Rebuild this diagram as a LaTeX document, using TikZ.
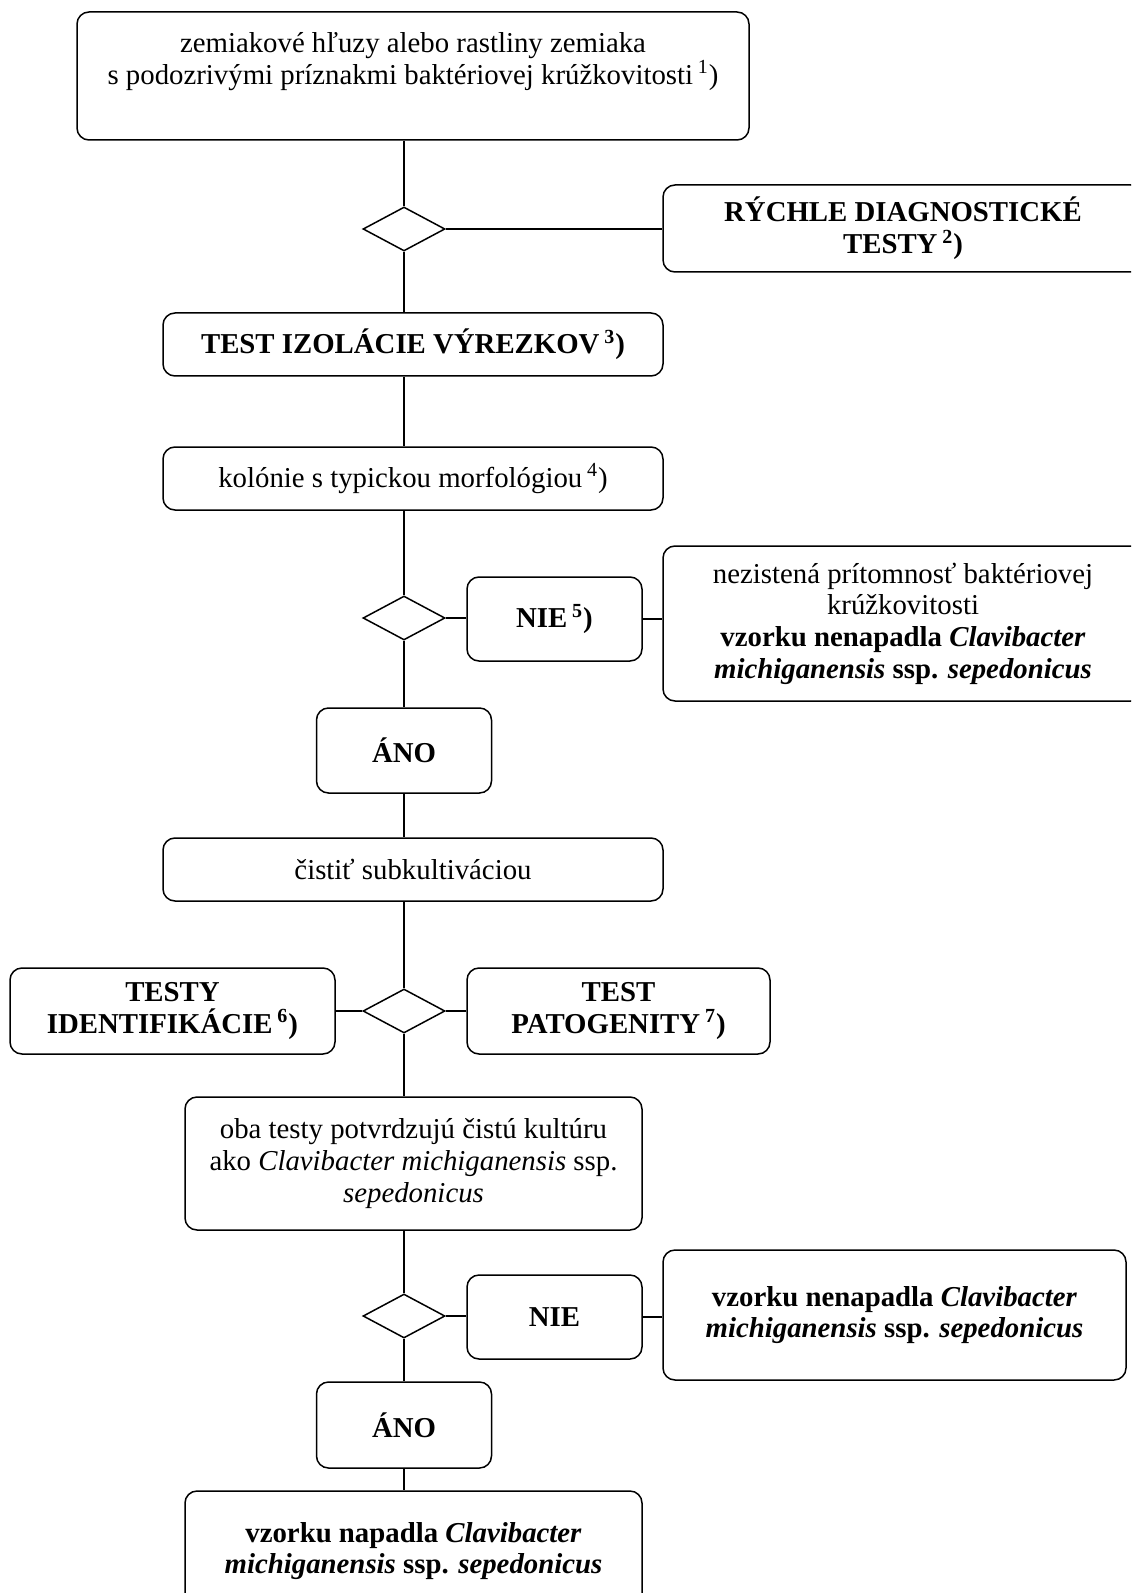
\documentclass[tikz,border=0pt]{standalone}
\usepackage{fontspec}
\setmainfont{Liberation Serif}
\usetikzlibrary{shapes.geometric}
\newcommand{\boxfont}{\fontsize{14.4}{15.8}\selectfont}
\tikzset{
  box/.style={
    draw,
    rectangle,
    rounded corners=6pt,
    line width=0.75pt,
    align=center,
    inner sep=2pt,
    font=\boxfont
  },
  boldbox/.style={
    box,
    font=\boxfont\bfseries
  },
  decision/.style={
    draw,
    diamond,
    line width=0.75pt,
    minimum width=41pt,
    minimum height=22pt,
    inner sep=0pt
  },
  link/.style={
    line width=0.75pt
  }
}
\newcommand{\sups}[1]{\,\textsuperscript{#1})}

\begin{document}
\begin{tikzpicture}[x=0.5pt, y=-0.5pt]
    \useasboundingbox (0,0) rectangle (1131,1593);
    \clip (0,0) rectangle (1131,1593);

    % main column
    \node[box, minimum width=336pt, minimum height=64pt] (tubers) at (413,76)
        {zemiakové hľuzy alebo rastliny zemiaka\\
         s podozrivými príznakmi baktériovej krúžkovitosti\sups{1}\\[-3pt] \strut};
    \node[decision] (d1) at (404,229) {};
    \node[boldbox, minimum width=240pt, minimum height=43.5pt] (rapid) at (903,228.5)
        {RÝCHLE DIAGNOSTICKÉ\\ TESTY\sups{2}};
    \node[boldbox, minimum width=250pt, minimum height=31.5pt] (isol) at (413,344.5)
        {TEST IZOLÁCIE VÝREZKOV\sups{3}};
    \node[box, minimum width=250pt, minimum height=31.5pt] (colony) at (413,478.5)
        {kolónie s typickou morfológiou\sups{4}};
    \node[decision] (d2) at (404,618) {};
    \node[boldbox, minimum width=87.5pt, minimum height=42pt] (no1) at (554.5,619)
        {NIE\sups{5}};
    \node[box, minimum width=240pt, minimum height=77.5pt] (absent) at (903,623.5)
        {nezistená prítomnosť baktériovej\\ krúžkovitosti\\
         \textbf{vzorku nenapadla \textit{Clavibacter}}\\
         \textbf{\textit{michiganensis} ssp. \textit{sepedonicus}}};
    \node[boldbox, minimum width=87.5pt, minimum height=42.5pt] (yes1) at (404,750.5)
        {ÁNO};
    \node[box, minimum width=250pt, minimum height=31.5pt] (purify) at (413,869.5)
        {čistiť subkultiváciou};
    \node[decision] (d3) at (404,1011) {};
    \node[boldbox, minimum width=162.5pt, minimum height=43pt] (ident) at (172.5,1011)
        {TESTY\\ IDENTIFIKÁCIE\sups{6}};
    \node[boldbox, minimum width=151.5pt, minimum height=43pt] (patho) at (618.5,1011)
        {TEST\\ PATOGENITY\sups{7}};
    \node[box, minimum width=228.5pt, minimum height=66.5pt] (both) at (413.5,1163.5)
        {oba testy potvrdzujú čistú kultúru\\
         ako \textit{Clavibacter michiganensis} ssp.\\ \textit{sepedonicus}};
    \node[decision] (d4) at (404,1316) {};
    \node[boldbox, minimum width=87.5pt, minimum height=42pt] (no2) at (554.5,1317)
        {NIE};
    \node[boldbox, minimum width=231.5pt, minimum height=65pt] (healthy) at (894.5,1315)
        {vzorku nenapadla \textit{Clavibacter}\\ \textit{michiganensis} ssp. \textit{sepedonicus}};
    \node[boldbox, minimum width=87.5pt, minimum height=43pt] (yes2) at (404,1425)
        {ÁNO};
    \node[boldbox, minimum width=228.5pt, minimum height=60pt] (infected) at (413.5,1551)
        {vzorku napadla \textit{Clavibacter}\\ \textit{michiganensis} ssp. \textit{sepedonicus}};

    % connectors
    \draw[link] (d1 |- tubers.south) -- (d1.north);
    \draw[link] (d1.east) -- (d1.east -| rapid.west);
    \draw[link] (d1.south) -- (d1 |- isol.north);
    \draw[link] (d1 |- isol.south) -- (d1 |- colony.north);
    \draw[link] (d1 |- colony.south) -- (d2.north);
    \draw[link] (d2.east) -- (d2.east -| no1.west);
    \draw[link] (no1.east) -- (no1.east -| absent.west);
    \draw[link] (d2.south) -- (yes1.north);
    \draw[link] (yes1.south) -- (yes1 |- purify.north);
    \draw[link] (d3 |- purify.south) -- (d3.north);
    \draw[link] (d3.west) -- (d3.west -| ident.east);
    \draw[link] (d3.east) -- (d3.east -| patho.west);
    \draw[link] (d3.south) -- (d3 |- both.north);
    \draw[link] (d4 |- both.south) -- (d4.north);
    \draw[link] (d4.east) -- (d4.east -| no2.west);
    \draw[link] (no2.east) -- (no2.east -| healthy.west);
    \draw[link] (d4.south) -- (yes2.north);
    \draw[link] (yes2.south) -- (yes2 |- infected.north);
\end{tikzpicture}
\end{document}
